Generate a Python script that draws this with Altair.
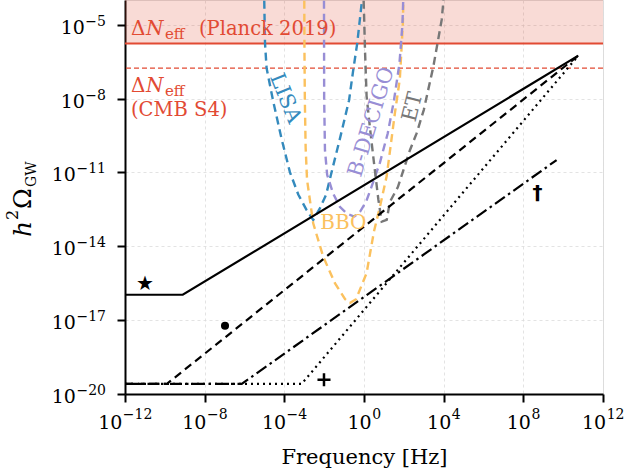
import altair as alt
import numpy as np
import pandas as pd

# ---------------- data (log10 values) ----------------
# black model curves: log10(f/Hz), log10(h^2 Omega)
solid_logf = [-12.0, -9.1, 10.76]
solid_logo = [-15.97, -15.97, -6.26]
dashed_logf = [-12.0, -9.9, 10.76]
dashed_logo = [-19.59, -19.59, -6.26]
dashdot_logf = [-12.0, -6.14, 9.67]
dashdot_logo = [-19.59, -19.59, -10.5]
dotted_logf = [-12.0, -3.13, 10.76]
dotted_logo = [-19.59, -19.59, -6.26]

# detector sensitivity curves
lisa_logf = [-5.02, -4.97, -4.89, -4.57, -4.15, -3.72, -3.3, -2.88, -2.55, -2.21,
             -1.9, -1.66, -1.2, -0.75, -0.55, -0.34, -0.1, -0.03]
lisa_logo = [-3.5, -5.76, -6.77, -8.07, -9.6, -10.99, -11.9, -12.53, -12.93, -12.45,
             -11.9, -11.1, -9.6, -8.07, -6.9, -5.76, -4.0, -3.5]
bbo_logf = [-3.0, -2.99, -2.97, -2.93, -2.86, -2.55, -2.05, -1.46, -0.95, -0.71, -0.4,
            0.13, 0.5, 0.8, 1.14, 1.55, 1.8, 1.95, 1.99]
bbo_logo = [-3.5, -6.0, -8.07, -10.0, -11.3, -13.07, -14.42, -15.5, -16.15, -16.31, -16.15,
            -15.09, -13.4, -12.4, -11.15, -8.6, -7.2, -5.0, -3.5]
decigo_logf = [-2.01, -2.0, -1.96, -1.85, -1.55, -1.21, -0.87, -0.5, -0.2, 0.1, 0.38,
               0.8, 1.19, 1.5, 1.78, 1.93, 1.99]
decigo_logo = [-3.5, -8.0, -10.1, -11.1, -11.86, -12.4, -12.66, -12.8, -12.6, -12.2, -11.58,
               -10.6, -9.42, -8.1, -6.58, -5.0, -3.5]
et_logf = [-0.04, 0.0, 0.05, 0.13, 0.3, 0.5, 0.72, 0.89, 1.14, 1.3, 1.7, 2.31, 2.64,
           3.0, 3.48, 3.9, 4.05]
et_logo = [-3.5, -4.5, -6.04, -7.9, -9.2, -10.6, -12.1, -13.0, -12.93, -12.2, -11.6,
           -10.09, -9.42, -8.47, -6.71, -4.81, -3.5]

# Delta N_eff bounds
planck_bound = 1.7e-6
cmbs4_bound = 1.7e-7
omega_top = 1e-4

# detector labels: text, f, omega, angle
det_names = ["LISA", "B-DECIGO", "ET", "BBO"]
det_f = [1.07e-4, 2.43, 288.0, 0.091]
det_o = [1.0e-8, 1.12e-9, 4.5e-9, 8.5e-14]
det_angle = [68, 287, 284, 0]

# markers
marker_sym = ["★", "†"]
marker_f = [1e-11, 5.2e8]
marker_o = [2.9e-16, 1.4e-12]
dot_f = [1.05e-7]
dot_o = [5.9e-18]
plus_f = [9.8e-3]
plus_o = [3.8e-20]

# tick exponents (labels are 10^e)
x_exps = [-12, -8, -4, 0, 4, 8, 12]
y_exps = [-20, -17, -14, -11, -8, -5]

# ---------------- styling ----------------
SERIF = "DejaVu Serif"
RED = "#E24A33"
BLUE = "#348ABD"
PURPLE = "#988ED5"
GRAY = "#777777"
ORANGE = "#FBC15E"
W, H = 478, 394
F10, FEXP = 19, 14          # font sizes of "10" and exponent in tick labels
DIGIT_W, MINUS_W = 0.636, 0.838


def exp_str(e):
    return ("−" if e < 0 else "") + str(abs(e))


def exp_width(e):
    s = exp_str(e)
    return FEXP * sum(MINUS_W if c == "−" else DIGIT_W for c in s)


common_axis = dict(
    grid=True, gridDash=[3, 3], gridColor="#dcdcdc", gridWidth=0.8,
    tickSize=8, tickWidth=2, tickColor="black",
    domainWidth=2, domainColor="black", labels=False,
    titleFont=SERIF, titleFontSize=21, titleFontWeight="normal", titleColor="black",
)
xaxis = alt.Axis(values=[10.0 ** e for e in x_exps], title="Frequency [Hz]",
                 titlePadding=43, **common_axis)
yaxis = alt.Axis(values=[10.0 ** e for e in y_exps], title=None, **common_axis)
xs = alt.Scale(type="log", domain=[1e-12, 1e12], nice=False)
ys = alt.Scale(type="log", domain=[1e-20, 1e-4], nice=False)


def X(field):
    return alt.X(field, type="quantitative", scale=xs, axis=xaxis)


def Y(field):
    return alt.Y(field, type="quantitative", scale=ys, axis=yaxis)


def curve(logf, logo, color, dash=None, width=2.0):
    df = pd.DataFrame({"f": 10.0 ** np.array(logf), "o": 10.0 ** np.array(logo),
                       "i": list(range(len(logf)))})
    kw = dict(color=color, strokeWidth=width, clip=True)
    if dash:
        kw["strokeDash"] = dash
    return alt.Chart(df).mark_line(**kw).encode(x=X("f"), y=Y("o"), order=alt.Order("i:Q"))


layers = []

# Planck excluded region
band = pd.DataFrame({"f1": [1e-12], "f2": [1e12], "o1": [planck_bound], "o2": [omega_top]})
layers.append(alt.Chart(band).mark_rect(color=RED, opacity=0.2, clip=True).encode(
    x=X("f1"), x2="f2", y=Y("o1"), y2="o2"))
layers.append(alt.Chart(pd.DataFrame({"o": [planck_bound]})).mark_rule(
    color=RED, strokeWidth=2).encode(y=Y("o")))
layers.append(alt.Chart(pd.DataFrame({"o": [cmbs4_bound]})).mark_rule(
    color=RED, strokeWidth=1.2, strokeDash=[5, 3]).encode(y=Y("o")))

# detectors
DASH = [8, 5]
layers.append(curve(lisa_logf, lisa_logo, BLUE, DASH, 2.4))
layers.append(curve(bbo_logf, bbo_logo, ORANGE, DASH, 2.4))
layers.append(curve(decigo_logf, decigo_logo, PURPLE, DASH, 2.4))
layers.append(curve(et_logf, et_logo, GRAY, DASH, 2.4))

# model curves
layers.append(curve(solid_logf, solid_logo, "black", None, 2.2))
layers.append(curve(dashed_logf, dashed_logo, "black", [8, 5], 2.2))
layers.append(curve(dashdot_logf, dashdot_logo, "black", [12, 4, 2.5, 4], 2.2))
layers.append(curve(dotted_logf, dotted_logo, "black", [2, 4], 2.2))

# detector labels
det_colors = [BLUE, PURPLE, GRAY, ORANGE]
det_sizes = [21, 21, 21, 20]
for name, f, o, ang, col, fs in zip(det_names, det_f, det_o, det_angle, det_colors, det_sizes):
    d = pd.DataFrame({"f": [f], "o": [o], "t": [name]})
    layers.append(alt.Chart(d).mark_text(
        font=SERIF, fontSize=fs, color=col, angle=ang, align="center", baseline="middle"
    ).encode(x=X("f"), y=Y("o"), text="t:N"))


# Delta N_eff annotations (pieces: Delta, italic N, subscript eff, rest)
def neff_label(f, o, rest=None):
    out = []
    d = pd.DataFrame({"f": [f], "o": [o]})
    pieces = [("Δ", 0, 0, 20, "normal"), ("N", 15, 0, 20, "italic"), ("eff", 34, 4, 15, "normal")]
    if rest:
        pieces.append((rest, 68, 0, 19.5, "normal"))
    for txt, dx, dy, fs, style in pieces:
        out.append(alt.Chart(d).mark_text(
            text=txt, font=SERIF, fontSize=fs, fontStyle=style, color=RED,
            align="left", baseline="alphabetic", dx=dx, dy=dy
        ).encode(x=X("f"), y=Y("o")))
    return out


layers += neff_label(2.0e-12, 3.8e-6, "(Planck 2019)")
layers += neff_label(2.0e-12, 1.9e-8)
d = pd.DataFrame({"f": [2.0e-12], "o": [1.9e-9], "t": ["(CMB S4)"]})
layers.append(alt.Chart(d).mark_text(font=SERIF, fontSize=19.5, color=RED, align="left",
                                     baseline="alphabetic").encode(x=X("f"), y=Y("o"), text="t:N"))

# markers
md = pd.DataFrame({"f": marker_f, "o": marker_o, "t": marker_sym})
layers.append(alt.Chart(md).mark_text(font="DejaVu Sans", fontSize=20, fontWeight="bold",
                                      color="black", align="center", baseline="middle").encode(
    x=X("f"), y=Y("o"), text="t:N"))
layers.append(alt.Chart(pd.DataFrame({"f": dot_f, "o": dot_o})).mark_point(
    filled=True, color="black", size=65, opacity=1, shape="circle").encode(x=X("f"), y=Y("o")))
layers.append(alt.Chart(pd.DataFrame({"f": plus_f, "o": plus_o})).mark_point(
    shape="M-1,0L1,0M0,-1L0,1", filled=False, color="black", size=170, strokeWidth=2.5,
    opacity=1).encode(x=X("f"), y=Y("o")))

# tick labels 10^e (base and raised exponent), placed through the scales
w10 = 2 * DIGIT_W * F10
for e in x_exps:
    total = w10 + exp_width(e)
    d = pd.DataFrame({"f": [10.0 ** e], "b": ["10"], "t": [exp_str(e)]})
    base_dx = -total / 2 + w10
    layers.append(alt.Chart(d).mark_text(
        font=SERIF, fontSize=F10, color="black", align="right", baseline="alphabetic",
        dx=base_dx).encode(x=X("f"), y=alt.value(H + 35), text="b:N"))
    layers.append(alt.Chart(d).mark_text(
        font=SERIF, fontSize=FEXP, color="black", align="left", baseline="alphabetic",
        dx=base_dx + 0.5).encode(x=X("f"), y=alt.value(H + 25), text="t:N"))
for e in y_exps:
    d = pd.DataFrame({"o": [10.0 ** e], "b": ["10"], "t": [exp_str(e)]})
    layers.append(alt.Chart(d).mark_text(
        font=SERIF, fontSize=FEXP, color="black", align="right", baseline="alphabetic",
        dy=1).encode(x=alt.value(-19), y=Y("o"), text="t:N"))
    layers.append(alt.Chart(d).mark_text(
        font=SERIF, fontSize=F10, color="black", align="right", baseline="alphabetic",
        dx=-exp_width(e) - 0.5, dy=9).encode(x=alt.value(-19), y=Y("o"), text="b:N"))

# y-axis title: h^2 Omega_GW (pieces, rotated)
one = pd.DataFrame({"a": [0]})
for txt, px, py, fs, style in [("h", -94, 237, 25, "italic"), ("2", -107, 220, 16, "normal"),
                               ("Ω", -94, 209, 25, "normal"), ("GW", -89, 187, 14, "normal")]:
    layers.append(alt.Chart(one).mark_text(
        text=txt, font=SERIF, fontSize=fs, fontStyle=style, color="black", angle=270,
        align="left", baseline="alphabetic").encode(x=alt.value(px), y=alt.value(py)))

chart = alt.layer(*layers).properties(
    width=W, height=H,
    autosize=alt.AutoSizeParams(type="none"),
    padding={"left": 125, "top": 0, "right": 23, "bottom": 80},
).configure_view(stroke="black", strokeWidth=2).configure(background="white")

chart.save("out.html", embed_options={"renderer": "svg", "actions": False})
